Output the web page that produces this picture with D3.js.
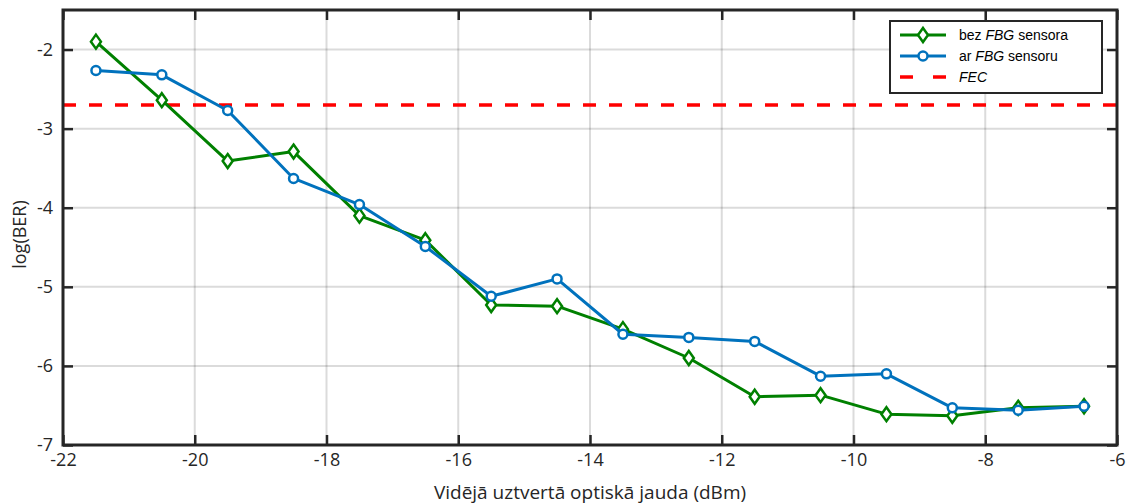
<!DOCTYPE html>
<html>
<head>
<meta charset="utf-8">
<script src="https://cdn.jsdelivr.net/npm/d3@7"></script>
<style>
  body { margin: 0; background: #fff; }
  svg { display: block; }
  .tick text { font-family: "Open Sans", sans-serif; }
</style>
</head>
<body>
<div id="chart"></div>
<script>
// data
const power = [-21.5, -20.5, -19.5, -18.5, -17.5, -16.5, -15.5, -14.5, -13.5, -12.5, -11.5, -10.5, -9.5, -8.5, -7.5, -6.5];
const bezFBG = [-1.90, -2.64, -3.41, -3.29, -4.10, -4.41, -5.23, -5.245, -5.535, -5.90, -6.39, -6.37, -6.61, -6.63, -6.53, -6.51];
const arFBG = [-2.265, -2.32, -2.77, -3.63, -3.96, -4.49, -5.12, -4.90, -5.60, -5.64, -5.69, -6.13, -6.10, -6.53, -6.56, -6.51];
const fecLevel = -2.7;
const xTicks = [-22, -20, -18, -16, -14, -12, -10, -8, -6];
const yTicks = [-7, -6, -5, -4, -3, -2];

const W = 1132, H = 504;
const margin = {top: 10, right: 15, bottom: 59, left: 63};
const iw = W - margin.left - margin.right;
const ih = H - margin.top - margin.bottom;

const svg = d3.select("#chart").append("svg")
  .attr("width", W).attr("height", H);

const g = svg.append("g").attr("transform", `translate(${margin.left},${margin.top})`);

const x = d3.scaleLinear().domain([-22, -6]).range([0, iw]);
const y = d3.scaleLinear().domain([-7, -1.5]).range([ih, 0]);

// grid
g.append("g").selectAll("line").data(xTicks.slice(1, -1)).join("line")
  .attr("x1", d => x(d)).attr("x2", d => x(d))
  .attr("y1", 0).attr("y2", ih)
  .attr("stroke", "#000").attr("stroke-opacity", 0.14).attr("stroke-width", 2);
g.append("g").selectAll("line").data(yTicks.slice(1)).join("line")
  .attr("x1", 0).attr("x2", iw)
  .attr("y1", d => y(d)).attr("y2", d => y(d))
  .attr("stroke", "#000").attr("stroke-opacity", 0.14).attr("stroke-width", 2);

// FEC line
g.append("line")
  .attr("x1", 0).attr("x2", iw)
  .attr("y1", y(fecLevel)).attr("y2", y(fecLevel))
  .attr("stroke", "#ff0000").attr("stroke-width", 3.5)
  .attr("stroke-dasharray", "13,13");

const lineGen = d3.line().x(d => x(d[0])).y(d => y(d[1]));

const series = [
  {name: "bez", values: bezFBG, color: "#008000", marker: "diamond"},
  {name: "ar", values: arFBG, color: "#0072bd", marker: "circle"}
];

const diamondPath = "M0,-7L5,0L0,7L-5,0Z";

series.forEach(s => {
  const pts = power.map((p, i) => [p, s.values[i]]);
  g.append("path").datum(pts)
    .attr("d", lineGen)
    .attr("fill", "none").attr("stroke", s.color).attr("stroke-width", 3)
    .attr("stroke-linejoin", "round");
  if (s.marker === "diamond") {
    g.append("g").selectAll("path").data(pts).join("path")
      .attr("d", diamondPath)
      .attr("transform", d => `translate(${x(d[0])},${y(d[1])})`)
      .attr("fill", "#fff").attr("stroke", s.color).attr("stroke-width", 2.5);
  } else {
    g.append("g").selectAll("circle").data(pts).join("circle")
      .attr("cx", d => x(d[0])).attr("cy", d => y(d[1])).attr("r", 4.5)
      .attr("fill", "#fff").attr("stroke", s.color).attr("stroke-width", 2.5);
  }
});

// axes with inward ticks
const axisColor = "#262626";
const fmt = d => String(d);
const xAxis = g.append("g").attr("transform", `translate(0,${ih})`)
  .call(d3.axisBottom(x).tickValues(xTicks).tickSize(-10).tickPadding(8).tickFormat(fmt));
const xAxisTop = g.append("g")
  .call(d3.axisTop(x).tickValues(xTicks).tickSize(-10).tickFormat(""));
const yAxis = g.append("g")
  .call(d3.axisLeft(y).tickValues(yTicks).tickSize(-10).tickPadding(10).tickFormat(fmt));
const yAxisRight = g.append("g").attr("transform", `translate(${iw},0)`)
  .call(d3.axisRight(y).tickValues(yTicks).tickSize(-10).tickFormat(""));

[xAxis, xAxisTop, yAxis, yAxisRight].forEach(a => {
  a.select(".domain").remove();
  a.selectAll(".tick line").attr("stroke", axisColor).attr("stroke-width", 2.5);
  a.selectAll(".tick text").attr("fill", "#262626").style("font-size", "18px");
});

g.append("rect").attr("width", iw).attr("height", ih)
  .attr("fill", "none").attr("stroke", axisColor).attr("stroke-width", 3);

// axis labels
svg.append("text")
  .attr("x", margin.left + iw / 2).attr("y", 499)
  .attr("text-anchor", "middle")
  .style("font-family", "'Open Sans', sans-serif")
  .style("font-size", "19px").attr("fill", "#262626")
  .text("Vidējā uztvertā optiskā jauda (dBm)");

svg.append("text")
  .attr("transform", `translate(26,${margin.top + ih / 2 + 7}) rotate(-90)`)
  .attr("text-anchor", "middle")
  .style("font-family", "'Open Sans', sans-serif")
  .style("font-size", "18px").attr("fill", "#262626")
  .text("log(BER)");

// legend
const leg = svg.append("g").attr("transform", "translate(890,21)");
leg.append("rect").attr("width", 212).attr("height", 72)
  .attr("fill", "#fff").attr("stroke", axisColor).attr("stroke-width", 2);

const legItems = [
  {pre: "bez ", it: "FBG", post: " sensora", color: "#008000", marker: "diamond"},
  {pre: "ar ", it: "FBG", post: " sensoru", color: "#0072bd", marker: "circle"},
  {pre: "", it: "FEC", post: "", color: "#ff0000", marker: "dash"}
];

legItems.forEach((d, i) => {
  const yy = 14 + i * 21;
  const row = leg.append("g").attr("transform", `translate(0,${yy})`);
  if (d.marker === "dash") {
    row.append("line").attr("x1", 10).attr("x2", 56)
      .attr("stroke", d.color).attr("stroke-width", 3.5).attr("stroke-dasharray", "13,20");
  } else {
    row.append("line").attr("x1", 10).attr("x2", 56)
      .attr("stroke", d.color).attr("stroke-width", 3);
    if (d.marker === "diamond") {
      row.append("path").attr("d", diamondPath).attr("transform", "translate(33,0)")
        .attr("fill", "#fff").attr("stroke", d.color).attr("stroke-width", 2.5);
    } else {
      row.append("circle").attr("cx", 33).attr("r", 4.5)
        .attr("fill", "#fff").attr("stroke", d.color).attr("stroke-width", 2.5);
    }
  }
  const t = row.append("text").attr("x", 69).attr("y", 5)
    .style("font-family", "'Liberation Sans', Arial, sans-serif")
    .style("font-size", "14px").attr("fill", "#000");
  t.append("tspan").text(d.pre);
  t.append("tspan").style("font-style", "italic").text(d.it);
  t.append("tspan").text(d.post);
});
</script>
</body>
</html>
